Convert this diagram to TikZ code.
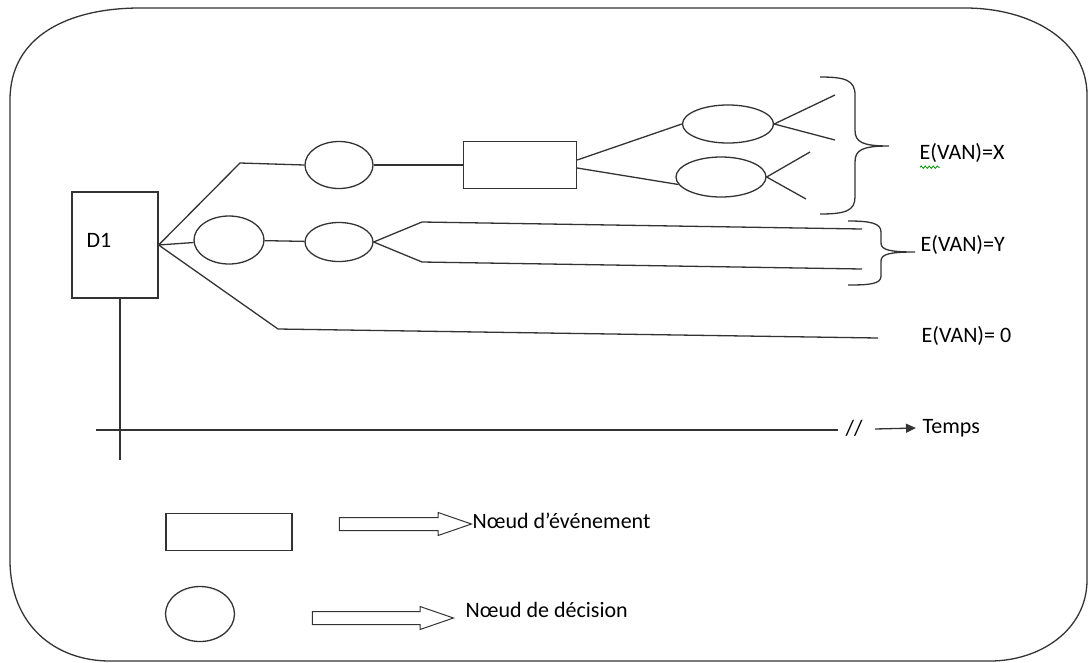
\documentclass[tikz,border=0pt]{standalone}
\usepackage{fontspec}
\setmainfont{Carlito}
\usetikzlibrary{positioning,shapes.geometric,shapes.arrows,arrows.meta,decorations.pathmorphing}

\begin{document}
\begin{tikzpicture}[x=1pt, y=-1pt, line width=1.3pt, draw=black!80,
	font=\fontsize{22}{24}\selectfont,
	evt/.style={draw, rectangle, inner sep=0},
	dec/.style={draw, ellipse, inner sep=0},
	lab/.style={inner sep=0, anchor=west},
	blockarrow/.style={draw, single arrow, inner xsep=0, inner ysep=6pt, single arrow head extend=5pt, single arrow tip angle=38, line width=1pt}]
	\useasboundingbox (0,0) rectangle (1089,662);
	% cadre
	\draw (10,560) -- (10,100) .. controls (10,35) and (70,8) .. (140,8) -- (965,8) .. controls (1030,8) and (1087,40) .. (1087,95) -- (1087,580) .. controls (1087,630) and (1040,661) .. (990,661) -- (110,661) .. controls (55,661) and (10,625) .. cycle;
	% arbre
	\node[evt, minimum width=86, minimum height=106] (d1) at (115,245) {};
	\node (d1lab) at (99,240) {D1};
	\node[dec, minimum width=68, minimum height=47] (e1) at (339,165) {};
	\node[evt, minimum width=113, minimum height=47] (r1) at (520,165) {};
	\node[dec, minimum width=91, minimum height=38] (e2) at (728,124) {};
	\node[dec, minimum width=90, minimum height=40] (e3) at (721,177) {};
	\node[dec, minimum width=70, minimum height=48] (e4) at (229,240) {};
	\node[dec, minimum width=68, minimum height=39] (e5) at (339,242) {};
	\coordinate (b1) at (240,163);
	\coordinate (b2) at (422,222);
	\coordinate (b3) at (422,262);
	\coordinate (b4) at (278,329);
	\coordinate (x1) at (835,95);
	\coordinate (x2) at (835,140);
	\coordinate (x3) at (810,152);
	\coordinate (x4) at (806,199);
	\coordinate (y1) at (862,229);
	\coordinate (y2) at (862,269);
	\coordinate (z0) at (878,338);
	\draw (d1.east) -- (b1) -- (e1.west);
	\draw (e1) -- (r1);
	\draw ([yshift=5]r1.east) -- (e2.west);
	\draw ([yshift=-3]r1.east) -- (e3.190);
	\draw (x1) -- (e2.east) -- (x2);
	\draw (x3) -- (e3.east) -- (x4);
	\draw (d1.east) -- (e4) -- (e5);
	\draw (y1) -- (b2) -- (e5.east) -- (b3) -- (y2);
	\draw (d1.east) -- (b4) -- (z0);
	% accolades
	\draw (820,77) .. controls (845,77) and (855,80) .. (855,95) -- (855,130) .. controls (855,142) and (862,146) .. (889,146) .. controls (862,146) and (855,150) .. (855,162) -- (855,197) .. controls (855,211) and (845,214) .. (820,214);
	\draw (848,221) .. controls (870,221) and (881,223) .. (881,232) -- (881,243) .. controls (881,250) and (890,252) .. (915,252) .. controls (890,252) and (881,254) .. (881,261) -- (881,276) .. controls (881,284) and (870,285) .. (848,285);
	\node[lab] (vx) at (919,153) {E(VAN)=X};
	\draw[green!60!black, line width=0.8pt, decorate, decoration={snake, amplitude=1.2pt, segment length=4pt}] (vx.south west) ++(1,4) -- ++(20,0);
	\node[lab] (vy) at (920,245) {E(VAN)=Y};
	\node[lab] (v0) at (921,336) {E(VAN)= 0};
	% axe du temps
	\coordinate (d1foot) at (120,460);
	\coordinate (t0) at (96,430);
	\coordinate (t1) at (838,430);
	\coordinate (a0) at (875,429);
	\draw (d1.south -| d1foot) -- (d1foot);
	\draw (t0) -- (t1);
	\node (brk) at (854,428) {//};
	\node[lab] (temps) at (922,428) {Temps};
	\draw[-{Triangle[length=10pt,width=9pt]}] (a0) -- ([xshift=-6]temps.west);
	% legende
	\node[evt, minimum width=126, minimum height=37] (kevt) at (229,532) {};
	\node[dec, minimum width=69, minimum height=55] (kdec) at (200,614) {};
	\node[blockarrow, minimum height=132] (karr1) at (396,524) {};
	\node[blockarrow, minimum height=141] (karr2) at (373.5,618) {};
	\node[lab] (kevtlab) at (472,521) {Nœud d’événement};
	\node[lab] (kdeclab) at (465,610) {Nœud de décision};
\end{tikzpicture}
\end{document}
